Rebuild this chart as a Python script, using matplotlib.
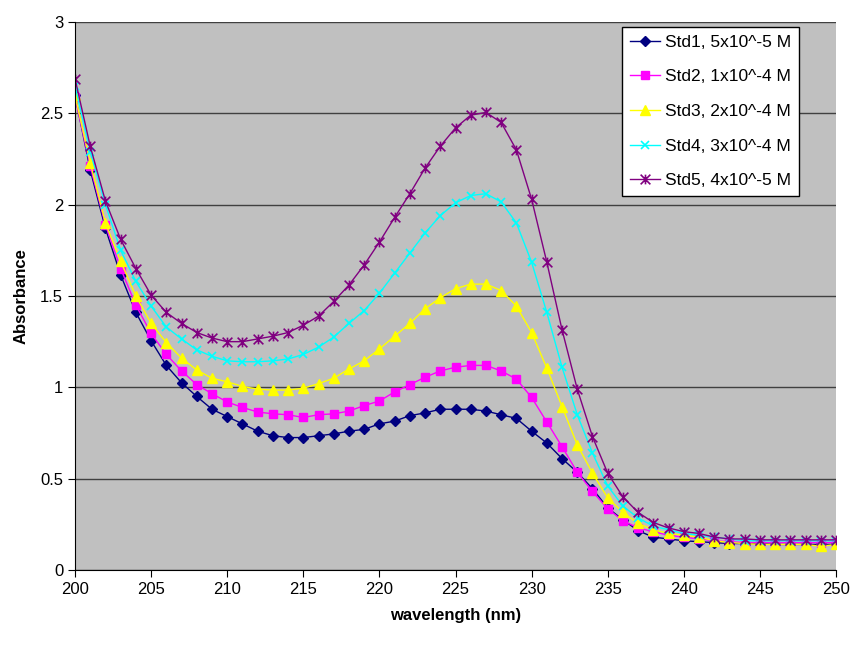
import matplotlib
matplotlib.use("Agg")
import matplotlib.pyplot as plt
from matplotlib.path import Path
import numpy as np

wavelength = list(range(200, 251))

std1 = [2.60, 2.19, 1.87, 1.615, 1.41, 1.255, 1.12, 1.025, 0.95, 0.88,
        0.84, 0.80, 0.76, 0.735, 0.725, 0.725, 0.735, 0.745, 0.76, 0.77,
        0.80, 0.815, 0.845, 0.86, 0.88, 0.88, 0.88, 0.87, 0.85, 0.83,
        0.76, 0.695, 0.61, 0.535, 0.445, 0.34, 0.275, 0.215, 0.18, 0.17,
        0.16, 0.155, 0.15, 0.145, 0.145, 0.145, 0.14, 0.14, 0.14, 0.14, 0.14]
std2 = [2.59, 2.21, 1.89, 1.65, 1.45, 1.295, 1.18, 1.09, 1.015, 0.965,
        0.92, 0.89, 0.865, 0.855, 0.85, 0.835, 0.85, 0.855, 0.87, 0.90,
        0.925, 0.975, 1.015, 1.055, 1.09, 1.11, 1.12, 1.12, 1.09, 1.045,
        0.945, 0.81, 0.675, 0.535, 0.43, 0.335, 0.27, 0.23, 0.21, 0.19,
        0.18, 0.17, 0.16, 0.155, 0.15, 0.15, 0.15, 0.15, 0.15, 0.15, 0.15]
std3 = [2.60, 2.23, 1.90, 1.69, 1.50, 1.35, 1.245, 1.16, 1.095, 1.05,
        1.03, 1.005, 0.99, 0.985, 0.985, 0.995, 1.02, 1.05, 1.10, 1.145,
        1.21, 1.28, 1.35, 1.43, 1.49, 1.54, 1.565, 1.565, 1.53, 1.445,
        1.30, 1.105, 0.895, 0.685, 0.53, 0.395, 0.315, 0.255, 0.22, 0.20,
        0.19, 0.18, 0.16, 0.15, 0.145, 0.14, 0.14, 0.14, 0.14, 0.13, 0.14]
std4 = [2.65, 2.29, 2.00, 1.75, 1.58, 1.445, 1.33, 1.265, 1.205, 1.17,
        1.145, 1.14, 1.14, 1.145, 1.155, 1.18, 1.22, 1.275, 1.35, 1.42,
        1.515, 1.625, 1.735, 1.845, 1.94, 2.01, 2.05, 2.06, 2.015, 1.90,
        1.685, 1.41, 1.11, 0.85, 0.64, 0.46, 0.35, 0.285, 0.24, 0.22,
        0.20, 0.19, 0.18, 0.17, 0.16, 0.16, 0.16, 0.16, 0.16, 0.16, 0.16]
std5 = [2.69, 2.32, 2.02, 1.81, 1.65, 1.505, 1.41, 1.35, 1.30, 1.27,
        1.25, 1.25, 1.265, 1.28, 1.30, 1.34, 1.39, 1.47, 1.56, 1.67,
        1.795, 1.93, 2.06, 2.20, 2.32, 2.42, 2.49, 2.505, 2.45, 2.30,
        2.03, 1.685, 1.315, 0.99, 0.73, 0.53, 0.40, 0.315, 0.26, 0.23,
        0.21, 0.20, 0.18, 0.17, 0.17, 0.165, 0.165, 0.165, 0.165, 0.165, 0.165]

labels = ["Std1, 5x10^-5 M", "Std2, 1x10^-4 M", "Std3, 2x10^-4 M",
          "Std4, 3x10^-4 M", "Std5, 4x10^-5 M"]

# asterisk marker like excel's "star"
star = Path([(-1, -1), (1, 1), (-1, 1), (1, -1), (0, -1), (0, 1)],
            [Path.MOVETO, Path.LINETO, Path.MOVETO, Path.LINETO, Path.MOVETO, Path.LINETO])

styles = [
    dict(color="#000080", marker="D", ms=5, mfc="#000080", mec="#000080"),
    dict(color="#FF00FF", marker="s", ms=6, mfc="#FF00FF", mec="#FF00FF"),
    dict(color="#FFFF00", marker="^", ms=7, mfc="#FFFF00", mec="#FFFF00"),
    dict(color="#00FFFF", marker="x", ms=6, mew=1.2, mec="#00FFFF"),
    dict(color="#800080", marker=star, ms=7, mew=1.2, mec="#800080"),
]

plt.rcParams["font.family"] = ["Liberation Sans", "DejaVu Sans"]

fig = plt.figure(figsize=(8.54, 6.55), dpi=100)
ax = fig.add_axes([75 / 854, 1 - 570 / 655, (836 - 75) / 854, (570 - 22) / 655])
ax.set_facecolor("#C0C0C0")

for ys, lab, st in zip([std1, std2, std3, std4, std5], labels, styles):
    ax.plot(wavelength, ys, lw=1.0, label=lab, **st)

ax.set_xlim(200, 250)
ax.set_ylim(0, 3)
ax.set_xticks(np.arange(200, 251, 5))
ax.set_yticks(np.arange(0, 3.01, 0.5))
ax.set_yticklabels(["0", "0.5", "1", "1.5", "2", "2.5", "3"])
ax.yaxis.grid(True, color="#404040", lw=1)
ax.set_axisbelow(True)
ax.tick_params(labelsize=12, direction="out", length=5, color="black")
for s in ["top", "right"]:
    ax.spines[s].set_visible(False)
ax.spines["left"].set_color("black")
ax.spines["bottom"].set_color("black")

ax.set_xlabel("wavelength (nm)", fontsize=12, fontweight="bold", labelpad=8)
ax.set_ylabel("Absorbance", fontsize=12, fontweight="bold", labelpad=8)

leg = ax.legend(loc="upper right", bbox_to_anchor=(0.951, 0.991), borderaxespad=0,
                fontsize=12.5, frameon=True, fancybox=False, edgecolor="black",
                framealpha=1, handlelength=1.7, handletextpad=0.3,
                labelspacing=1.12, borderpad=0.45)
leg.get_frame().set_linewidth(1)

fig.savefig("out.png", dpi=100)
